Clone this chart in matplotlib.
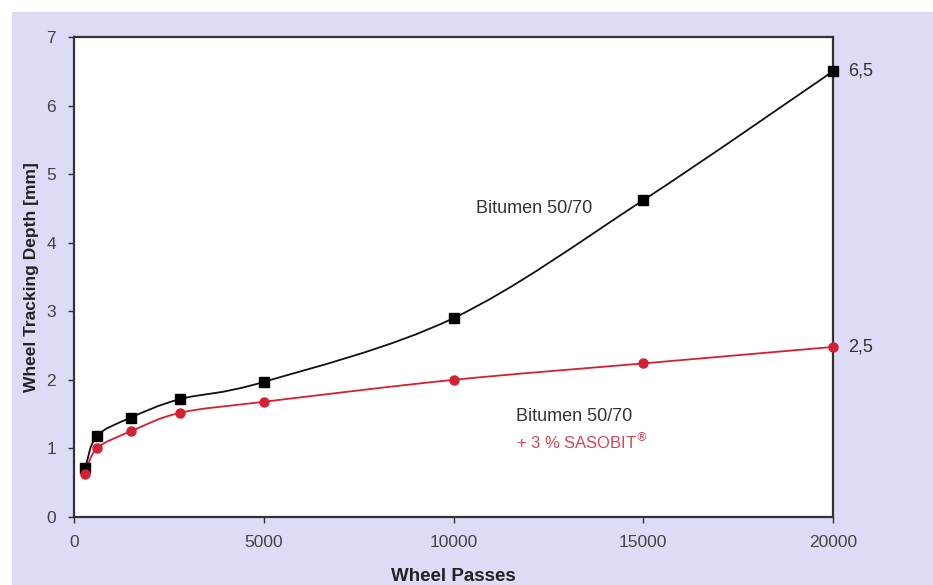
import numpy as np
import matplotlib
matplotlib.use("Agg")
import matplotlib.pyplot as plt
from matplotlib.path import Path
from matplotlib.patches import PathPatch, Rectangle

plt.rcParams['font.family'] = ['Liberation Sans', 'DejaVu Sans']

# data
passes = [300, 600, 1500, 2800, 5000, 10000, 15000, 20000]
depth_plain = [0.72, 1.18, 1.45, 1.72, 1.97, 2.90, 4.62, 6.50]
depth_sasobit = [0.63, 1.00, 1.25, 1.52, 1.68, 2.00, 2.24, 2.48]

x_ticks = [0, 5000, 10000, 15000, 20000]
y_ticks = [0, 1, 2, 3, 4, 5, 6, 7]


def smooth_path(x, y):
    # catmull-rom like bezier segments through the points (excel "smoothed line")
    x = np.asarray(x, float)
    y = np.asarray(y, float)
    verts = [(x[0], y[0])]
    codes = [Path.MOVETO]
    n = len(x)
    for i in range(n - 1):
        p0 = (x[max(i - 1, 0)], y[max(i - 1, 0)])
        p1 = (x[i], y[i])
        p2 = (x[i + 1], y[i + 1])
        p3 = (x[min(i + 2, n - 1)], y[min(i + 2, n - 1)])
        c1 = (p1[0] + (p2[0] - p0[0]) / 6, p1[1] + (p2[1] - p0[1]) / 6)
        c2 = (p2[0] - (p3[0] - p1[0]) / 6, p2[1] - (p3[1] - p1[1]) / 6)
        verts += [c1, c2, p2]
        codes += [Path.CURVE4] * 3
    return Path(verts, codes)


fig = plt.figure(figsize=(9.33, 5.85), dpi=100)
fig.patch.set_facecolor('white')
bg = Rectangle((12 / 933, 0), 1, 1 - 12 / 585, transform=fig.transFigure,
               facecolor='#dcdcf6', edgecolor='none', zorder=-10)
fig.add_artist(bg)

ax = fig.add_axes([74 / 933, 1 - 517 / 585, (833 - 74) / 933, (517 - 37) / 585])
ax.set_zorder(1)
ax.set_facecolor('white')
ax.set_xlim(0, 20000)
ax.set_ylim(0, 7)

ax.add_patch(PathPatch(smooth_path(passes, depth_plain), facecolor='none',
                       edgecolor='#111111', lw=1.3, zorder=3))
ax.add_patch(PathPatch(smooth_path(passes, depth_sasobit), facecolor='none',
                       edgecolor='#d42030', lw=1.3, zorder=3))
ax.plot(passes, depth_plain, ls='none', marker='s', ms=6.5, color='black', zorder=4, clip_on=False)
ax.plot(passes, depth_sasobit, ls='none', marker='o', ms=6.5, color='#d42030', zorder=4, clip_on=False)

ax.set_xticks(x_ticks)
ax.set_yticks(y_ticks)
ax.tick_params(direction='out', length=4, width=1, colors='#333333', pad=9,
               labelsize=12.5, labelcolor='#444444')
for s in ax.spines.values():
    s.set_color('#333333')
    s.set_linewidth(1.6)

ax.set_xlabel('Wheel Passes', fontsize=13.5, fontweight='bold', color='#222222', labelpad=13)
ax.set_ylabel('Wheel Tracking Depth [mm]', fontsize=12.5, fontweight='bold', color='#222222', labelpad=5)

ax.text(10600, 4.5, 'Bitumen 50/70', fontsize=13, color='#333333', va='center')
ax.text(11650, 1.46, 'Bitumen 50/70', fontsize=13, color='#333333', va='center')
ax.text(11650, 1.1, '+ 3 % SASOBIT$^{®}$', fontsize=12, color='#d04858', va='center')

ax.annotate('6,5', xy=(20000, depth_plain[-1]), xytext=(11, 0), textcoords='offset points',
            fontsize=13, color='#333333', va='center', annotation_clip=False)
ax.annotate('2,5', xy=(20000, depth_sasobit[-1]), xytext=(11, 0), textcoords='offset points',
            fontsize=13, color='#333333', va='center', annotation_clip=False)

fig.savefig('out.png', dpi=100)
